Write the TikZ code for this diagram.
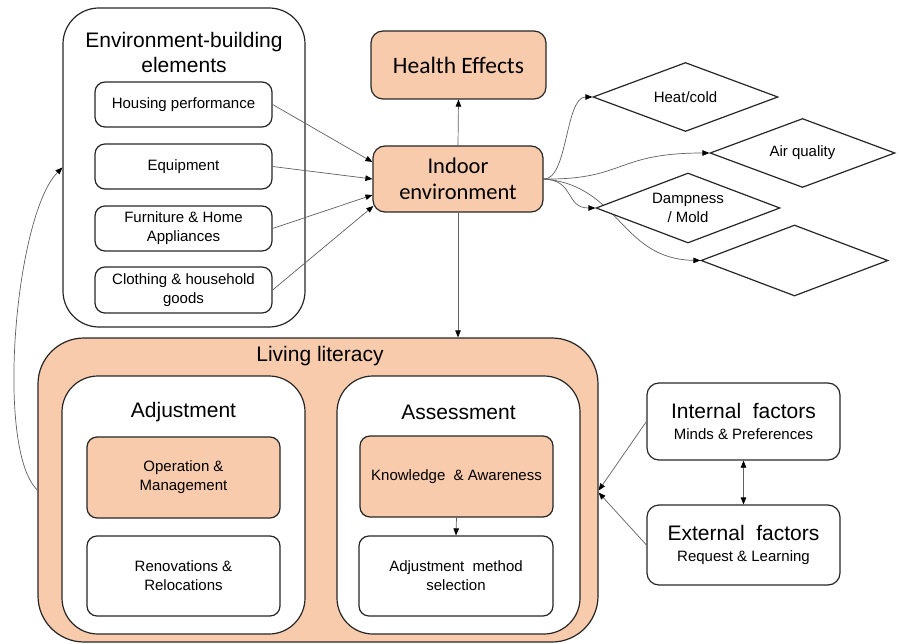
\documentclass[tikz,border=0pt]{standalone}
\usepackage{fontspec}
\setmainfont{Liberation Sans}
\newfontfamily\calib{Carlito}
\usetikzlibrary{arrows.meta,shapes.geometric}
\definecolor{peach}{HTML}{F8CBAD}
\definecolor{edge}{HTML}{262626}
\definecolor{arr}{HTML}{606060}
\pgfdeclarelayer{bg}
\pgfsetlayers{bg,main}
\begin{document}
\begin{tikzpicture}[x=1pt,y=-1pt,
  box/.style={draw=edge, line width=1.2pt, rounded corners=10pt, align=center, inner sep=0pt,
    font=\fontsize{15}{19}\selectfont},
  container/.style={draw=edge, line width=1.2pt, inner sep=0pt},
  ttl/.style={font=\fontsize{21}{25}\selectfont, align=center, inner sep=0pt},
  conn/.style={draw=arr, line width=0.7pt, -{Triangle[length=7pt,width=5.5pt,color=black]}},
  dconn/.style={draw=arr, line width=0.7pt, {Triangle[length=7pt,width=5.5pt,color=black]}-{Triangle[length=7pt,width=5.5pt,color=black]}},
  dia/.style={draw=edge, line width=1.2pt, fill=white, diamond, shape aspect=2.68, inner sep=0pt,
    align=center, font=\fontsize{15}{19}\selectfont}
]
\useasboundingbox (0,0) rectangle (899,644);

% environment-building elements
\node[container, rounded corners=36pt, minimum width=242pt, minimum height=319pt] (env) at (184,167.5) {};
\node[ttl] (envt) at (184,52) {Environment-building\\elements};
\node[box, minimum width=177pt, minimum height=45pt] (hp) at (183.5,104.5) {Housing performance};
\node[box, minimum width=177pt, minimum height=45pt] (eq) at (183.5,166.5) {Equipment};
\node[box, minimum width=177pt, minimum height=45pt] (fa) at (183.5,228.5) {Furniture \& Home\\Appliances};
\node[box, minimum width=177pt, minimum height=46pt] (cg) at (183.5,290) {Clothing \& household\\goods};

% health & indoor
\node[box, fill=peach, rounded corners=12pt, minimum width=175pt, minimum height=68pt,
  font=\calib\fontsize{23.5}{26}\selectfont] (he) at (458.5,65) {Health Effects};
\node[box, fill=peach, rounded corners=12pt, minimum width=170pt, minimum height=66pt,
  font=\calib\fontsize{22.5}{26}\selectfont] (ind) at (458,179) {Indoor\\environment};

% diamonds
\node[dia, minimum width=185pt, minimum height=69pt] (heat) at (685.5,97) {Heat/cold};
\node[dia, minimum width=185pt, minimum height=69pt] (air) at (802.5,153) {Air quality};
\node[dia, minimum width=184pt, minimum height=70pt] (damp) at (688,208) {Dampness\\/ Mold};
\node[dia, minimum width=187pt, minimum height=71pt] (empt) at (794.5,260.5) {};

% living literacy
\node[container, fill=peach, rounded corners=46pt, minimum width=560pt, minimum height=304pt] (ll) at (318,490) {};
\node[ttl] (llt) at (320,356) {Living literacy};
\node[container, fill=white, rounded corners=36pt, minimum width=243pt, minimum height=258pt] (adj) at (183.5,505) {};
\node[ttl] (adjt) at (183.5,412) {Adjustment};
\node[container, fill=white, rounded corners=36pt, minimum width=243pt, minimum height=258pt] (ass) at (458.5,505) {};
\node[ttl] (asst) at (458.5,412) {Assessment};
\node[box, fill=peach, minimum width=193pt, minimum height=81pt] (om) at (183.5,477.5) {Operation \&\\Management};
\node[box, fill=white, minimum width=193pt, minimum height=80pt] (rr) at (183.5,576) {Renovations \&\\Relocations};
\node[box, fill=peach, minimum width=193pt, minimum height=81pt] (ka) at (456.5,476.5) {Knowledge\ \ \& Awareness};
\node[box, fill=white, minimum width=194pt, minimum height=80pt] (ams) at (456,576) {Adjustment\ \ method\\selection};

% factors
\node[box, rounded corners=12pt, minimum width=193pt, minimum height=77pt] (intf) at (743.5,421.5)
  {{\fontsize{21}{23}\selectfont Internal\ \ factors}\\[2pt]Minds \& Preferences};
\node[box, rounded corners=12pt, minimum width=193pt, minimum height=80pt] (extf) at (743.5,545)
  {{\fontsize{21}{23}\selectfont External\ \ factors}\\[2pt]Request \& Learning};

% connectors
\draw[conn] (hp.east) -- ([yshift=17pt]ind.west);
\draw[conn] (eq.east) -- ([yshift=0pt]ind.west);
\draw[conn] (fa.east) -- ([yshift=-16pt]ind.west);
\draw[conn] (cg.east) -- ([yshift=-27pt,xshift=1pt]ind.west);
\draw[conn] (ind.north) -- (he.south);
\draw[conn] (ind.south) -- (ind.south |- ll.north);
\draw[conn] (ka.south) -- (ams.north);
\draw[conn] (intf.west) -- ([yshift=-0.5pt]ll.east);
\draw[conn] (extf.west) -- ([yshift=-2.5pt]ll.east);
\draw[dconn] (intf.south) -- (extf.north);
\draw[conn] (ll.west) .. controls (-5,450) and (15,215) .. (env.west);

\begin{pgfonlayer}{bg}
\draw[conn] (ind.east) .. controls (568,180) and (565,97) .. (heat.west);
\draw[conn] (ind.east) .. controls (625,180) and (615,153) .. (air.west);
\draw[conn] (ind.east) .. controls (575,180) and (565,208) .. (damp.west);
\draw[conn] (ind.east) .. controls (620,185) and (620,259) .. (empt.west);
\end{pgfonlayer}
\end{tikzpicture}
\end{document}
